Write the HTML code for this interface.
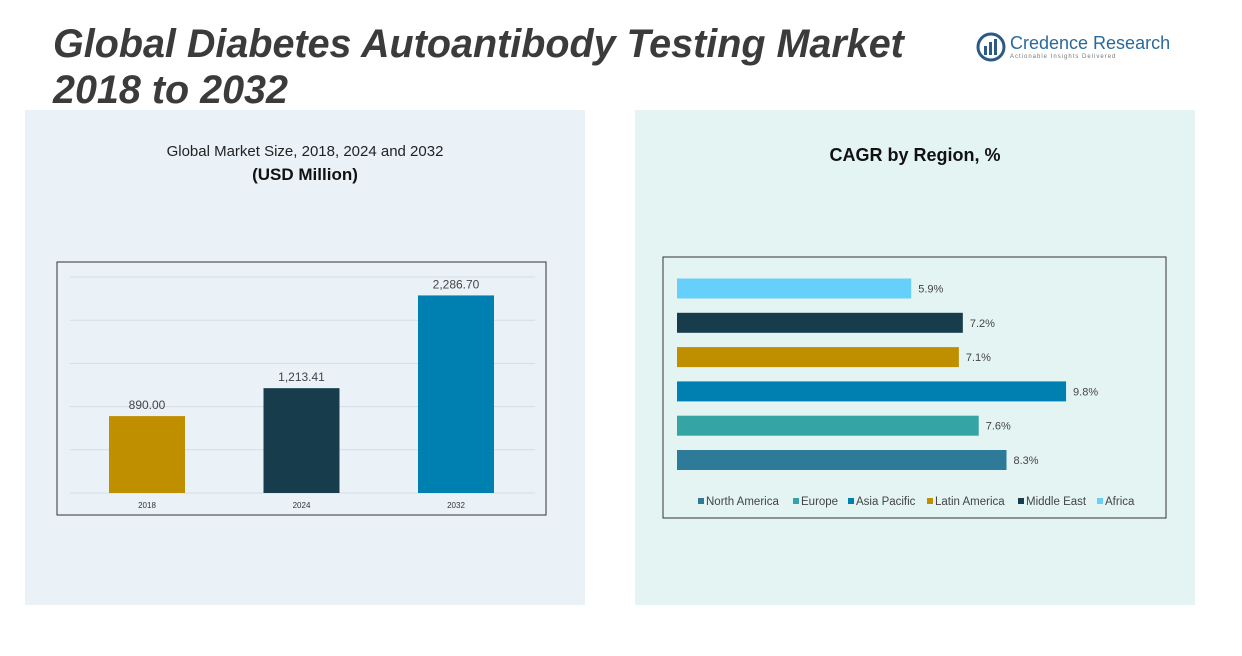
<!DOCTYPE html>
<html><head><meta charset="utf-8"><style>
body{margin:0;width:1242px;height:656px;background:#fff;position:relative;overflow:hidden;font-family:"Liberation Sans",sans-serif;}
.abs{position:absolute;}
</style></head><body>
<div class="abs" style="left:25px;top:110px;width:560px;height:495px;background:#eaf2f8"></div>
<div class="abs" style="left:635px;top:110px;width:560px;height:495px;background:#e4f4f3"></div>
<div class="abs" style="left:53px;top:21px;font-size:39.5px;font-weight:bold;font-style:italic;color:#3b3b3b;line-height:46px;white-space:nowrap">Global Diabetes Autoantibody Testing Market<br>2018 to 2032</div>
<div class="abs" style="left:976px;top:32px;width:220px;height:32px;white-space:nowrap">
<svg width="30" height="30" style="position:absolute;left:0;top:0"><circle cx="15" cy="15" r="13" fill="none" stroke="#2a5a85" stroke-width="3"/><rect x="8" y="14" width="3" height="9" fill="#2a5a85"/><rect x="13" y="10" width="3" height="13" fill="#2a5a85"/><rect x="18" y="7" width="3" height="16" fill="#2a5a85"/></svg>
<div style="position:absolute;left:34px;top:1px;font-size:18px;color:#2a6a9a;white-space:nowrap">Credence Research</div>
<div style="position:absolute;left:34px;top:22px;font-size:6px;color:#777;letter-spacing:1px;white-space:nowrap">Actionable Insights Delivered</div>
</div>
<div class="abs" style="left:25px;width:560px;top:143px;text-align:center;font-size:15px;color:#222">Global Market Size, 2018, 2024 and 2032</div>
<div class="abs" style="left:25px;width:560px;top:165px;text-align:center;font-size:17px;font-weight:bold;color:#111">(USD Million)</div>
<div class="abs" style="left:635px;width:560px;top:145px;text-align:center;font-size:18px;font-weight:bold;color:#111">CAGR by Region, %</div>
<svg id="bar" class="abs" style="left:0;top:0" width="1242" height="656"></svg>
<script>
const years=["2018","2024","2032"];
const sizes=[890.00,1213.41,2286.70];
const sizeLabels=["890.00","1,213.41","2,286.70"];
const yearColors=["#c08f00","#173d4c","#0080b1"];
const regions=["North America","Europe","Asia Pacific","Latin America","Middle East","Africa"];
const cagr=[8.3,7.6,9.8,7.1,7.2,5.9];
const cagrLabels=["8.3%","7.6%","9.8%","7.1%","7.2%","5.9%"];
const regionColors=["#2e7b99","#34a5a4","#0080b1","#c08f00","#173d4c","#66d0fb"];
const NS="http://www.w3.org/2000/svg";
const svg=document.getElementById('bar');
function mk(t,a,p){const e=document.createElementNS(NS,t);for(const k in a)e.setAttribute(k,a[k]);(p||svg).appendChild(e);return e;}
let box=mk('rect',{x:57,y:262,width:489,height:253,fill:'none',stroke:'#333','stroke-width':1});


const y0=493,ys=v=>y0-v*216/2500;
for(let g=0;g<=5;g++){const gl=mk('line',{x1:70,x2:535,y1:ys(g*500),y2:ys(g*500),stroke:'#d3dde3','stroke-width':1});

}
const xc=i=>147+i*154.5;
years.forEach((yr,i)=>{
 const r=mk('rect',{x:xc(i)-38,y:ys(sizes[i]),width:76,height:y0-ys(sizes[i]),fill:yearColors[i]});
 
 
 const t=mk('text',{x:xc(i),y:ys(sizes[i])-7,'text-anchor':'middle','font-size':12,fill:'#444'});t.textContent=sizeLabels[i];
 
 
 const l=mk('text',{x:xc(i),y:508,'text-anchor':'middle','font-size':8,fill:'#333'});l.textContent=yr;
 
 
});
let box2=mk('rect',{x:663,y:257,width:503,height:261,fill:'none',stroke:'#333','stroke-width':1});


const xs=v=>677+v*39.7;
const yb=i=>450-i*34.3;
regions.forEach((rg,i)=>{
 const r=mk('rect',{x:677,y:yb(i),width:xs(cagr[i])-677,height:20,fill:regionColors[i]});
 
 
 const t=mk('text',{x:xs(cagr[i])+7,y:yb(i)+14,'font-size':11,fill:'#444'});t.textContent=cagrLabels[i];
 
 
});
const lx=[698,793,848,927,1018,1097];
regions.forEach((rg,i)=>{
 const s=mk('rect',{x:lx[i],y:498,width:6,height:6,fill:regionColors[i]});
 
 
 const t=mk('text',{x:lx[i]+8,y:505,'font-size':11.5,fill:'#444'});t.textContent=rg;
 
 
});
</script>
</body></html>
